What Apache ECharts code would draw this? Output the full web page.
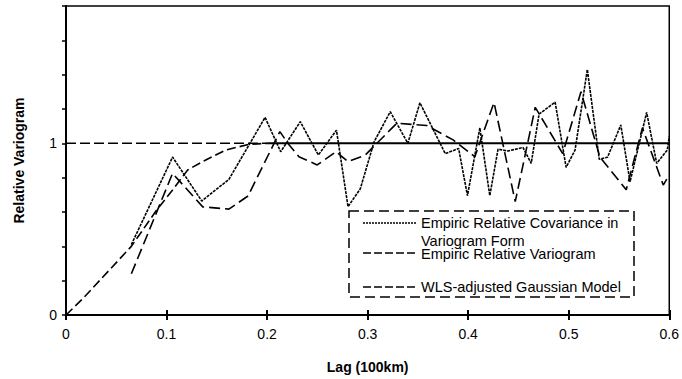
<!DOCTYPE html>
<html><head><meta charset="utf-8">
<script src="https://cdn.jsdelivr.net/npm/echarts@6/dist/echarts.min.js"></script>
<style>html,body{margin:0;padding:0;background:#fff}#c{width:682px;height:379px}</style>
</head><body><div id="c"></div>
<script>
// Empiric Relative Covariance in Variogram Form
const covLag   = [0.065,0.106,0.135,0.162,0.198,0.2135,0.233,0.251,0.269,0.2805,0.2927,0.3065,0.3225,0.340,0.352,0.3772,0.3905,0.3993,0.4116,0.4215,0.4297,0.4396,0.4545,0.4627,0.4705,0.4865,0.4974,0.5063,0.5185,0.5304,0.5386,0.5518,0.561,0.5775,0.5875,0.598,0.6];
const covValue = [0.41,0.92,0.664,0.79,1.151,0.951,1.126,0.932,1.077,0.631,0.735,1.01,1.184,1.0,1.236,0.94,0.97,0.695,1.09,0.695,0.966,0.955,0.976,0.883,1.17,1.24,0.86,0.961,1.43,0.907,0.919,1.107,0.776,1.18,0.883,0.961,1.04];
// Empiric Relative Variogram
const varLag   = [0.065,0.106,0.136,0.162,0.181,0.2127,0.222,0.2317,0.2498,0.2686,0.2805,0.2977,0.329,0.3587,0.385,0.4066,0.4257,0.4468,0.4667,0.494,0.5122,0.531,0.5572,0.5733,0.594,0.6];
const varValue = [0.24,0.825,0.63,0.617,0.693,1.068,0.99,0.922,0.874,0.951,0.893,0.932,1.117,1.104,1.02,0.922,1.238,0.66,1.21,0.94,1.30,0.92,0.73,1.09,0.757,0.815];
// WLS-adjusted Gaussian Model
const gaussLag   = [0,0.017,0.065,0.09,0.106,0.121,0.139,0.159,0.172,0.182,0.2];
const gaussValue = [0,0.097,0.40,0.61,0.728,0.845,0.903,0.961,0.98,0.994,1.0];
// sill reference line (dashed part and solid part)
const sillDashLag = [0,0.2], sillDashValue = [1,1];
const sillSolidLag = [0.2,0.6], sillSolidValue = [1,1];
// axes
const xTicks = [0,0.1,0.2,0.3,0.4,0.5,0.6];
const yLabelled = [0,1];
const legendNames = ['Empiric Relative Covariance in','Variogram Form','Empiric Relative Variogram','WLS-adjusted Gaussian Model'];

const zip = (a,b) => a.map((v,i)=>[v,b[i]]);
const FONT = 'Liberation Sans, Arial, sans-serif';
const chart = echarts.init(document.getElementById('c'), null, {renderer:'svg'});
const baseX = {
  type:'value', min:0, max:0.6, interval:0.1, position:'bottom', offset:0,
  axisLine:{show:true, lineStyle:{color:'#000', width:2}},
  splitLine:{show:false}
};
const lineS = (name,data,type,w) => ({
  name, type:'line', data, symbol:'none', silent:true, animation:false,
  lineStyle:{color:'#000', width:w||1.5, type}
});
chart.setOption({
  animation:false,
  grid:{left:66, right:10, top:6, bottom:64, show:true, borderColor:'#000', borderWidth:1.5, backgroundColor:'transparent'},
  xAxis:[
    Object.assign({}, baseX, {
      name:'Lag (100km)', nameLocation:'middle', nameGap:45,
      nameTextStyle:{fontFamily:FONT, fontSize:14, fontWeight:'bold', color:'#000'},
      axisTick:{show:true, inside:false, length:5, lineStyle:{color:'#000', width:2}},
      axisLabel:{fontFamily:FONT, fontSize:14, color:'#000', margin:12,
        formatter: v => xTicks.some(t=>Math.abs(t-v)<1e-9) ? String(+v.toFixed(1)) : ''}
    }),
    Object.assign({}, baseX, {
      axisTick:{show:true, inside:true, length:5, lineStyle:{color:'#000', width:2}},
      axisLabel:{show:false}
    })
  ],
  yAxis:{
    type:'value', min:0, max:1.8, interval:0.2,
    name:'Relative Variogram', nameLocation:'middle', nameGap:40, nameRotate:90,
    nameTextStyle:{fontFamily:FONT, fontSize:14, fontWeight:'bold', color:'#000'},
    axisLine:{show:true, lineStyle:{color:'#000', width:2}},
    axisTick:{show:true, inside:false, length:4, lineStyle:{color:'#000', width:1.5}},
    axisLabel:{fontFamily:FONT, fontSize:14, color:'#000', margin:9,
      formatter: v => yLabelled.some(t=>Math.abs(t-v)<1e-9) ? String(Math.round(v)) : ''},
    splitLine:{show:false}
  },
  series:[
    lineS('sillDash', zip(sillDashLag,sillDashValue), [10,4], 1.5),
    lineS('sillSolid', zip(sillSolidLag,sillSolidValue), 'solid', 2),
    lineS(legendNames[3], zip(gaussLag,gaussValue), [9,4], 1.6),
    lineS(legendNames[2], zip(varLag,varValue), [11,5], 1.6),
    lineS(legendNames[0], zip(covLag,covValue), [3,1], 1.6)
  ],
  graphic:[
    {type:'rect', shape:{x:349, y:211, width:285, height:86}, z:100,
     style:{fill:'#fff', stroke:'#000', lineWidth:1.5, lineDash:[10,5]}},
    {type:'line', shape:{x1:363,y1:223,x2:417,y2:223}, z:101, style:{stroke:'#000', lineWidth:1.5, lineDash:[2,1]}},
    {type:'line', shape:{x1:363,y1:253,x2:417,y2:253}, z:101, style:{stroke:'#000', lineWidth:1.5, lineDash:[8,3]}},
    {type:'line', shape:{x1:363,y1:287,x2:417,y2:287}, z:101, style:{stroke:'#000', lineWidth:1.5, lineDash:[8,3]}},
    {type:'text', x:421, y:223, z:101, style:{text:legendNames[0], font:'14.5px '+FONT, fill:'#000', textVerticalAlign:'middle'}},
    {type:'text', x:421, y:241, z:101, style:{text:legendNames[1], font:'14.5px '+FONT, fill:'#000', textVerticalAlign:'middle'}},
    {type:'text', x:421, y:254, z:101, style:{text:legendNames[2], font:'14.5px '+FONT, fill:'#000', textVerticalAlign:'middle'}},
    {type:'text', x:421, y:287, z:101, style:{text:legendNames[3], font:'14.5px '+FONT, fill:'#000', textVerticalAlign:'middle'}}
  ]
});
</script></body></html>
